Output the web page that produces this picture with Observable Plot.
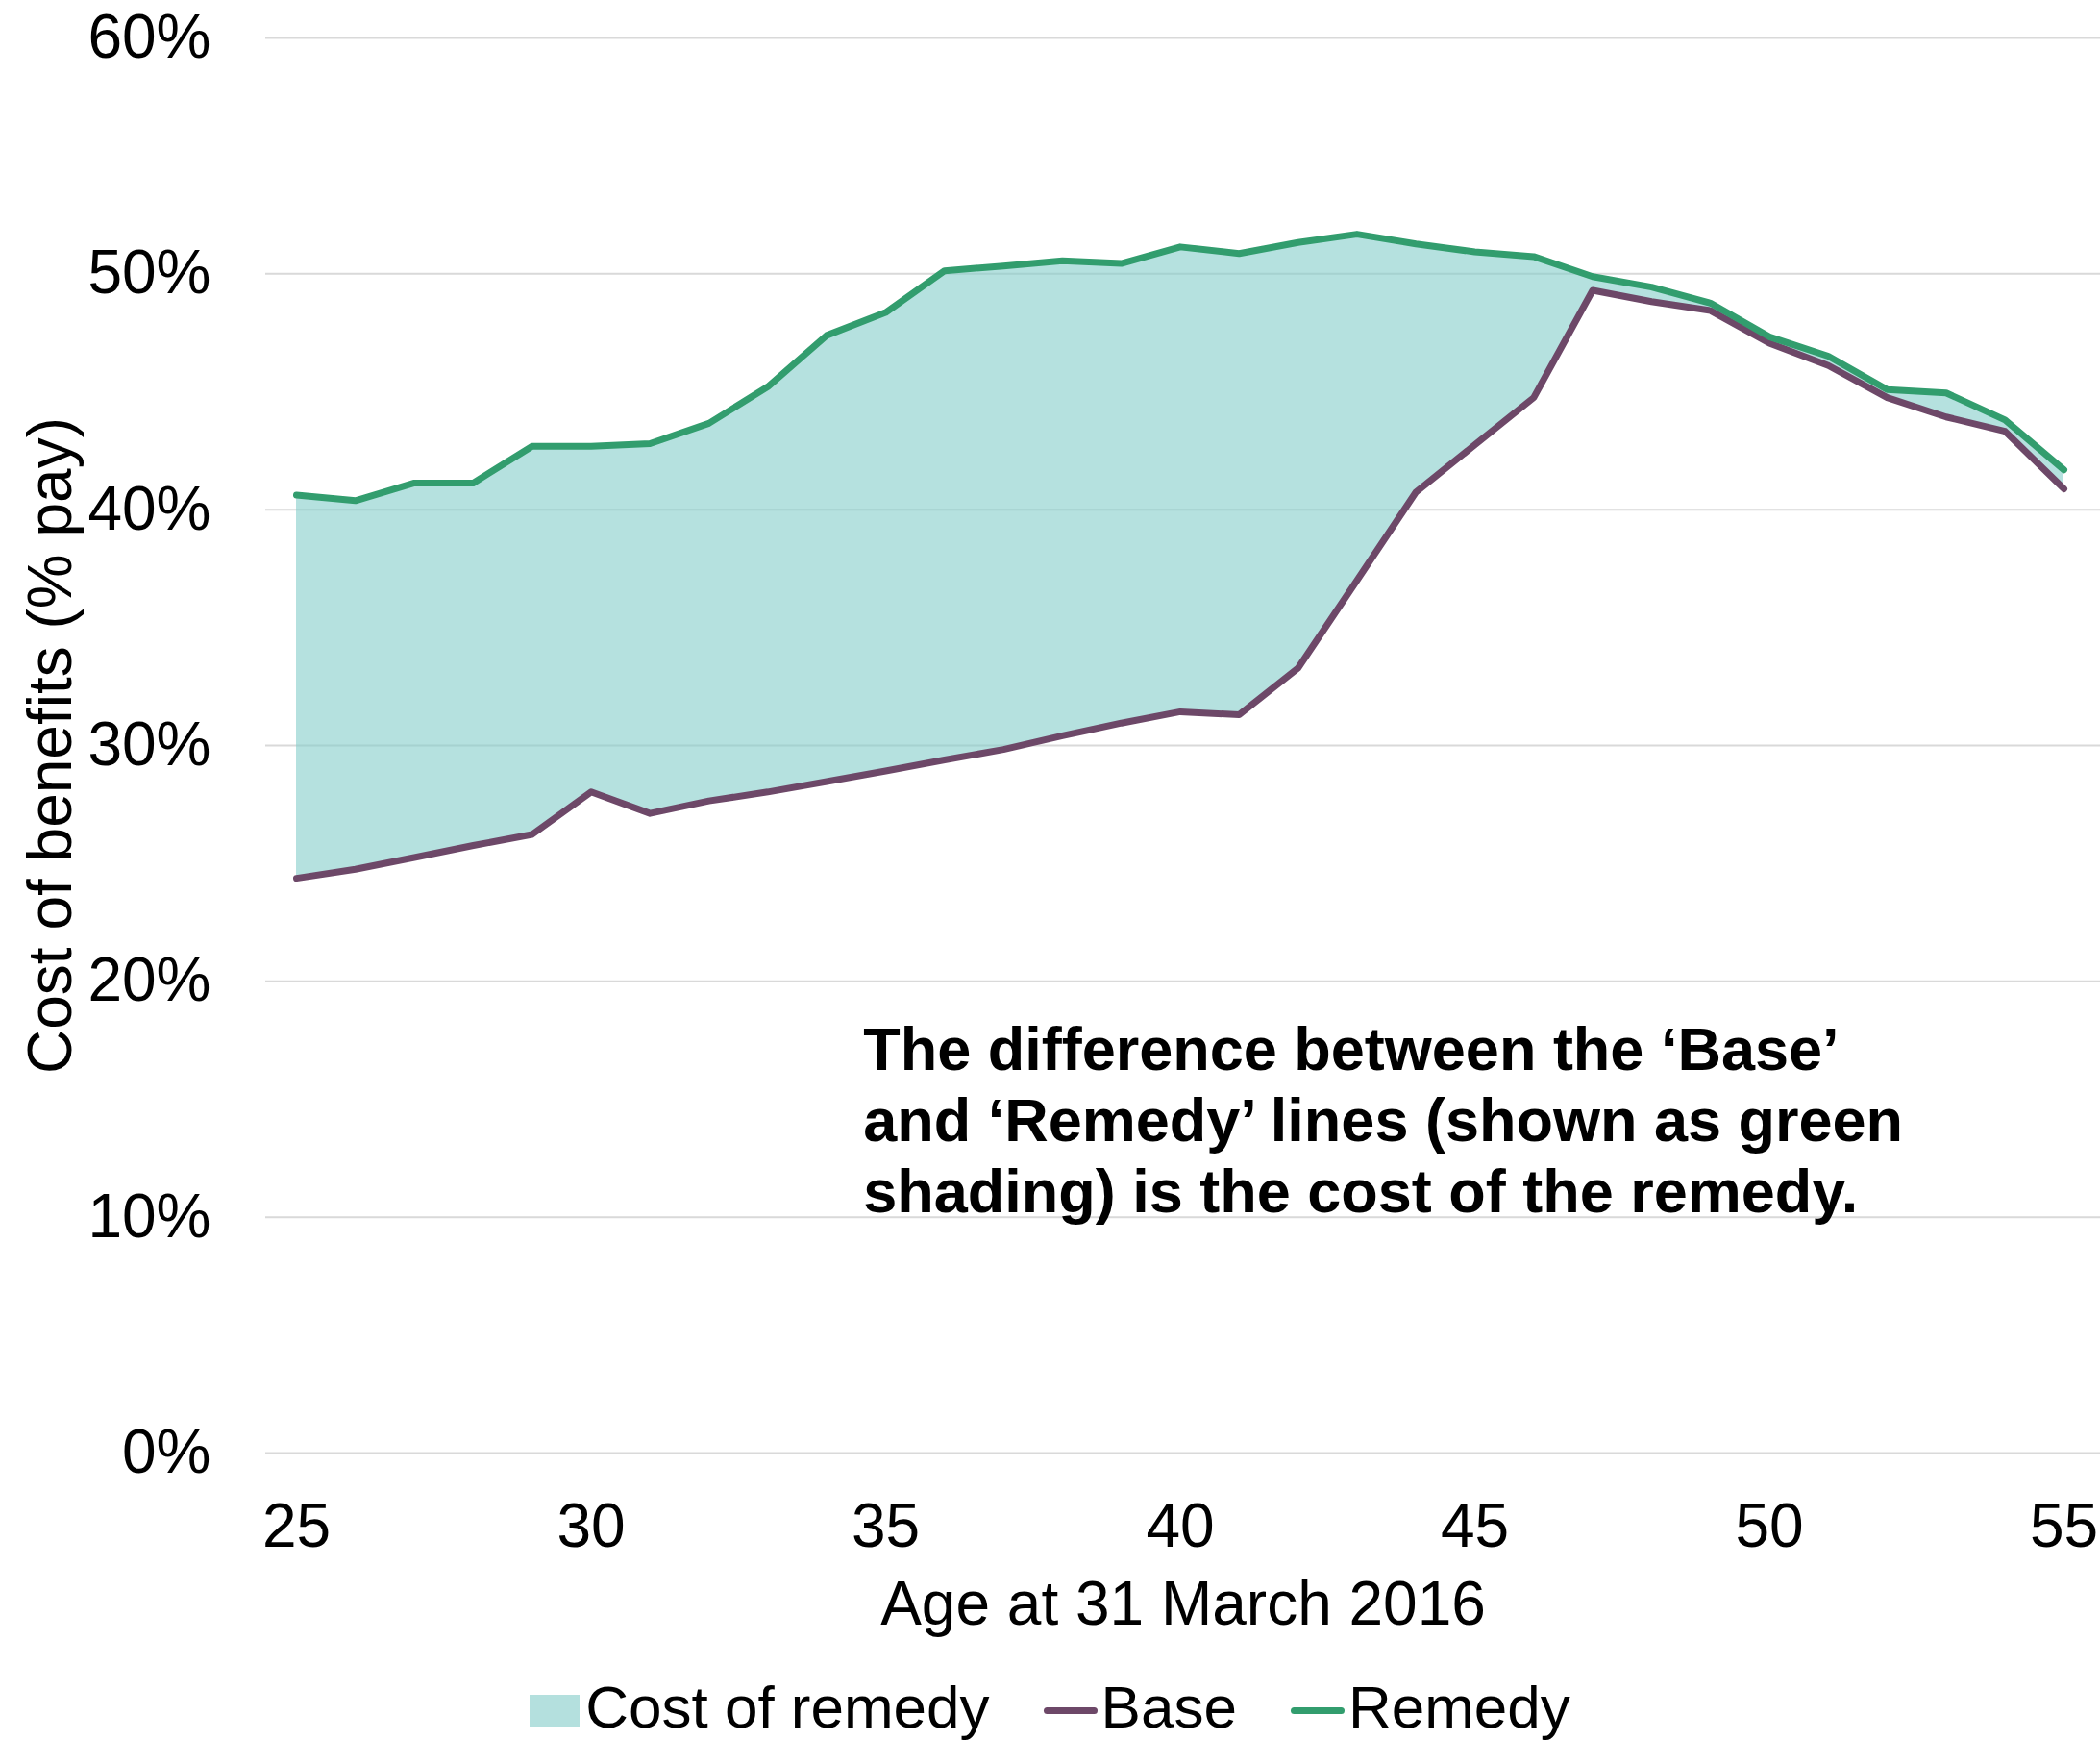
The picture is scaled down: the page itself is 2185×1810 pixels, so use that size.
<!DOCTYPE html>
<html>
<head>
<meta charset="utf-8">
<script src="https://cdn.jsdelivr.net/npm/d3@7"></script>
<script src="https://cdn.jsdelivr.net/npm/@observablehq/plot@0.6"></script>
<style>
  html, body { margin: 0; padding: 0; background: #fff; }
  body { width: 2185px; height: 1810px; overflow: hidden; font-family: "Liberation Sans", Arial, sans-serif; }
  #legend { display: flex; justify-content: center; align-items: center; height: 62px; margin-top: 45px;
            font-size: 62px; line-height: 62px; color: #000; }
  .item { display: flex; align-items: center; margin: 0 28px; }
  .sq { width: 52px; height: 33px; background: #b4e0de; margin-right: 6px; position: relative; top: 3px; }
  .ln { width: 56px; height: 7px; border-radius: 4px; margin-right: 4px; position: relative; top: 3px; }
</style>
</head>
<body>
<div id="chart"></div>
<div id="legend"></div>
<script>
// ---- data ----
const ages = [25,26,27,28,29,30,31,32,33,34,35,36,37,38,39,40,41,42,43,44,45,46,47,48,49,50,51,52,53,54,55];
const base = [24.37,24.75,25.25,25.76,26.23,28.03,27.12,27.65,28.03,28.47,28.92,29.39,29.83,30.41,30.95,31.43,31.3,33.28,37.0,40.74,42.75,44.75,49.3,48.82,48.44,47.06,46.11,44.75,43.93,43.32,40.88];
const remedy = [40.62,40.38,41.13,41.13,42.69,42.69,42.8,43.66,45.21,47.39,48.36,50.13,50.33,50.55,50.44,51.14,50.86,51.33,51.68,51.27,50.93,50.73,49.88,49.44,48.76,47.33,46.51,45.09,44.95,43.8,41.69];
const xTicks = [25,30,35,40,45,50,55];
const yTicks = [0,10,20,30,40,50,60];
const seriesNames = ["Cost of remedy", "Base", "Remedy"];
const xTitle = "Age at 31 March 2016";
const yTitle = "Cost of benefits (% pay)";
const noteLines = ["The difference between the \u2018Base\u2019", "and \u2018Remedy\u2019 lines (shown as green", "shading) is the cost of the remedy."];
const noteAge = [34.62];
const notePct = [14.19];

// ---- colours ----
const green = "#329d6e", purple = "#6d4868", fillCol = "#83cdc9";

const data = ages.map((a, i) => ({age: a, base: base[i], remedy: remedy[i]}));
const note = [{x: noteAge[0], y: notePct[0], text: noteLines.join("\n")}];

const chart = Plot.plot({
  width: 2185,
  height: 1700,
  marginTop: 39,
  marginBottom: 189,
  marginLeft: 276,
  marginRight: 0,
  style: {fontFamily: "'Liberation Sans', Arial, sans-serif", fontSize: "64px", color: "#000", background: "#fff", overflow: "visible"},
  x: {domain: [25, 55], insetLeft: 32, insetRight: 38},
  y: {domain: [0, 60]},
  marks: [
    Plot.ruleY(yTicks, {stroke: "#d9d9d9", strokeWidth: 2}),
    Plot.areaY(data, {x: "age", y1: "base", y2: "remedy", fill: fillCol, fillOpacity: 0.6}),
    Plot.lineY(data, {x: "age", y: "base", stroke: purple, strokeWidth: 7, strokeLinejoin: "round", strokeLinecap: "round"}),
    Plot.lineY(data, {x: "age", y: "remedy", stroke: green, strokeWidth: 7, strokeLinejoin: "round", strokeLinecap: "round"}),
    Plot.axisX({ticks: xTicks, tickSize: 0, tickPadding: 52, label: null, fontSize: 64}),
    Plot.axisY({ticks: yTicks, tickSize: 0, tickPadding: 57, label: null, fontSize: 64, tickFormat: d => d + "%"}),
    Plot.text([xTitle], {frameAnchor: "bottom", dy: 158, textAnchor: "middle", lineAnchor: "middle", fontSize: 64, fill: "#000"}),
    Plot.text([yTitle], {frameAnchor: "left", dx: -223, rotate: -90, textAnchor: "middle", lineAnchor: "middle", fontSize: 64, fill: "#000"}),
    Plot.text(note, {x: "x", y: "y", text: "text", textAnchor: "start", lineAnchor: "middle", lineHeight: 1.18, fontSize: 63, fontWeight: "bold", fill: "#000"})
  ]
});
document.getElementById("chart").appendChild(chart);

// ---- legend ----
const legend = document.getElementById("legend");
const swatches = [{cls: "sq", color: null}, {cls: "ln", color: purple}, {cls: "ln", color: green}];
seriesNames.forEach((name, i) => {
  const item = document.createElement("div");
  item.className = "item";
  const sw = document.createElement("span");
  sw.className = swatches[i].cls;
  if (swatches[i].color) sw.style.background = swatches[i].color;
  const label = document.createElement("span");
  label.textContent = name;
  item.appendChild(sw);
  item.appendChild(label);
  legend.appendChild(item);
});
</script>
</body>
</html>
